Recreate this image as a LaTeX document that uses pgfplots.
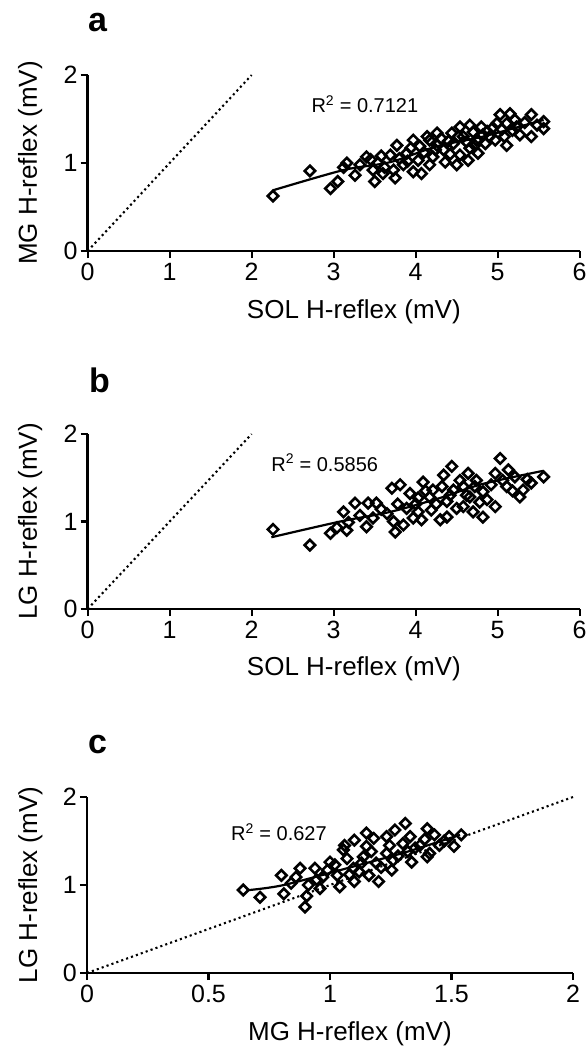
\documentclass[border=0pt]{standalone}
\usepackage{fontspec}
\setmainfont{Liberation Sans}
\usepackage{pgfplots}
\pgfplotsset{compat=1.18}
\usepackage{pgfplotstable}

\pgfplotstableread{
x y
2.26 0.625
2.71 0.91
2.96 0.71
3.05 0.79
3.12 0.95
3.16 1.00
3.26 0.86
3.32 0.98
3.40 1.07
3.45 1.04
3.48 0.92
3.50 0.79
3.54 1.00
3.58 1.08
3.60 0.88
3.62 0.95
3.69 1.09
3.73 0.92
3.75 0.83
3.77 1.20
3.80 1.05
3.85 0.98
3.89 1.11
3.90 1.02
3.94 1.17
3.97 1.26
3.97 0.90
4.03 1.03
4.05 1.19
4.07 0.88
4.10 1.12
4.14 1.30
4.17 1.26
4.17 0.98
4.21 1.07
4.24 1.15
4.26 1.34
4.26 1.20
4.31 1.28
4.34 1.15
4.36 1.01
4.40 1.25
4.42 1.10
4.44 1.34
4.46 1.22
4.50 0.98
4.52 1.30
4.54 1.41
4.54 1.09
4.58 1.30
4.62 1.24
4.66 1.43
4.64 1.03
4.66 1.17
4.70 1.35
4.72 1.20
4.74 1.26
4.76 1.11
4.80 1.41
4.82 1.32
4.85 1.22
4.87 1.36
4.90 1.30
4.94 1.40
4.97 1.26
4.99 1.45
5.03 1.55
5.05 1.38
5.08 1.30
5.11 1.45
5.11 1.20
5.15 1.56
5.18 1.37
5.21 1.49
5.23 1.41
5.27 1.32
5.33 1.46
5.41 1.55
5.41 1.30
5.48 1.43
5.56 1.47
5.56 1.39
}\dataA

\pgfplotstableread{
x y
2.26 0.91
2.71 0.73
2.96 0.865
3.04 0.93
3.12 1.11
3.16 0.90
3.18 0.99
3.26 1.21
3.32 1.07
3.40 0.94
3.42 1.21
3.48 1.04
3.52 1.21
3.58 1.14
3.65 1.09
3.71 1.38
3.73 1.00
3.75 0.88
3.78 1.20
3.81 1.42
3.85 0.96
3.89 1.15
3.93 1.32
3.97 1.04
4.00 1.20
4.03 1.27
4.03 1.11
4.07 1.02
4.09 1.45
4.12 1.35
4.17 1.28
4.19 1.13
4.21 1.36
4.25 1.20
4.30 1.02
4.32 1.40
4.34 1.53
4.38 1.23
4.38 1.05
4.42 1.30
4.44 1.63
4.46 1.36
4.50 1.15
4.54 1.47
4.58 1.17
4.58 1.40
4.62 1.30
4.64 1.55
4.66 1.28
4.70 1.11
4.72 1.40
4.74 1.47
4.78 1.22
4.82 1.34
4.82 1.05
4.87 1.25
4.92 1.42
4.97 1.55
4.97 1.17
5.03 1.72
5.06 1.47
5.11 1.40
5.13 1.59
5.18 1.35
5.21 1.51
5.27 1.28
5.31 1.36
5.36 1.48
5.41 1.44
5.56 1.51
}\dataB

\pgfplotstableread{
x y
0.643 0.943
0.712 0.86
0.80 1.11
0.81 0.90
0.84 1.02
0.86 1.09
0.877 1.19
0.897 0.75
0.904 0.875
0.911 1.00
0.938 1.19
0.945 1.06
0.959 0.96
0.97 1.09
0.99 1.17
1.00 1.26
1.02 1.23
1.03 1.11
1.04 0.98
1.055 1.40
1.06 1.45
1.07 1.30
1.08 1.12
1.096 1.19
1.10 1.51
1.10 1.04
1.12 1.15
1.13 1.25
1.137 1.32
1.15 1.44
1.15 1.59
1.16 1.11
1.17 1.38
1.18 1.53
1.19 1.25
1.20 1.04
1.21 1.20
1.233 1.55
1.233 1.36
1.245 1.45
1.254 1.17
1.26 1.28
1.267 1.625
1.28 1.33
1.30 1.47
1.31 1.70
1.32 1.38
1.33 1.55
1.336 1.26
1.35 1.42
1.37 1.45
1.39 1.52
1.40 1.64
1.40 1.32
1.41 1.36
1.43 1.57
1.45 1.45
1.47 1.50
1.49 1.55
1.51 1.44
1.54 1.57
}\dataC

\pgfplotsset{
 myaxis/.style={
  scale only axis, anchor=south west,
  axis lines=left, axis line style={line width=2.8pt,-},
  ymin=0, ymax=2, ytick={0,1,2},
  every tick/.style={line width=2.2pt,black},
  major tick length=7pt, tick align=outside,
  /pgf/number format/assume math mode=true,
  xticklabel style={font=\fontsize{25}{28}\selectfont, anchor=north, inner sep=0pt, yshift=-5pt},
  yticklabel style={font=\fontsize{25}{28}\selectfont, anchor=east, inner sep=0pt, xshift=-3pt},
  label style={font=\fontsize{26}{30}\selectfont},
  x label style={at={(axis description cs:0.541,-0.273)},anchor=north,inner sep=0pt},
  y label style={at={(axis description cs:-0.142,0.5)},anchor=north,inner sep=0pt},
  clip=false,
 },
 pts/.style={only marks, mark=square, mark size=3.7pt, mark options={rotate=45, line width=2.6pt, solid, draw=black, fill=none}},
 fit/.style={line width=2.2pt, black, smooth, no marks},
 idl/.style={line width=2.1pt, black, dash pattern=on 2.1pt off 3.1pt, no marks},
}

\begin{document}
\begin{tikzpicture}
\path[use as bounding box] (0pt,0pt) rectangle (586pt,-1049pt);

% panel a
\begin{axis}[myaxis, at={(87.7pt,-251pt)}, width=492pt, height=176pt,
  xmin=0, xmax=6, xtick={0,1,2,3,4,5,6},
  xlabel={SOL H-reflex (mV)}, ylabel={MG H-reflex (mV)}]
\addplot[idl] coordinates {(0,0) (2,2)};
\addplot[pts] table[x=x,y=y] {\dataA};
\addplot[fit] coordinates {(2.26,0.69) (3.12,0.92) (3.69,1.01) (4.26,1.19) (4.82,1.30) (5.56,1.49)};
\node[font=\fontsize{20}{24}\selectfont] at (axis cs:3.38,1.67) {R\textsuperscript{2} = 0.7121};
\end{axis}

% panel b
\begin{axis}[myaxis, at={(87.7pt,-609pt)}, width=492pt, height=175pt,
  xmin=0, xmax=6, xtick={0,1,2,3,4,5,6},
  xlabel={SOL H-reflex (mV)}, ylabel={LG H-reflex (mV)}]
\addplot[idl] coordinates {(0,0) (2,2)};
\addplot[pts] table[x=x,y=y] {\dataB};
\addplot[fit] coordinates {(2.24,0.82) (3.08,1.0) (3.69,1.11) (4.3,1.27) (4.82,1.43) (5.56,1.58)};
\node[font=\fontsize{20}{24}\selectfont] at (axis cs:2.89,1.67) {R\textsuperscript{2} = 0.5856};
\end{axis}

% panel c
\begin{axis}[myaxis, at={(87pt,-973pt)}, width=486pt, height=176pt,
  xmin=0, xmax=2, xtick={0,0.5,1,1.5,2},
  xlabel={MG H-reflex (mV)}, ylabel={LG H-reflex (mV)}]
\addplot[idl] coordinates {(0,0) (2,2)};
\addplot[pts] table[x=x,y=y] {\dataC};
\addplot[fit] coordinates {(0.657,0.94) (0.81,1.0) (1.096,1.21) (1.32,1.38) (1.535,1.57)};
\node[font=\fontsize{20}{24}\selectfont] at (axis cs:0.79,1.60) {R\textsuperscript{2} = 0.627};
\end{axis}

\node[anchor=base west, inner sep=0pt, font=\fontsize{34}{38}\selectfont\bfseries] at (88pt,-32pt) {a};
\node[anchor=base west, inner sep=0pt, font=\fontsize{34}{38}\selectfont\bfseries] at (89pt,-392pt) {b};
\node[anchor=base west, inner sep=0pt, font=\fontsize{34}{38}\selectfont\bfseries] at (88pt,-753pt) {c};
\end{tikzpicture}
\end{document}
